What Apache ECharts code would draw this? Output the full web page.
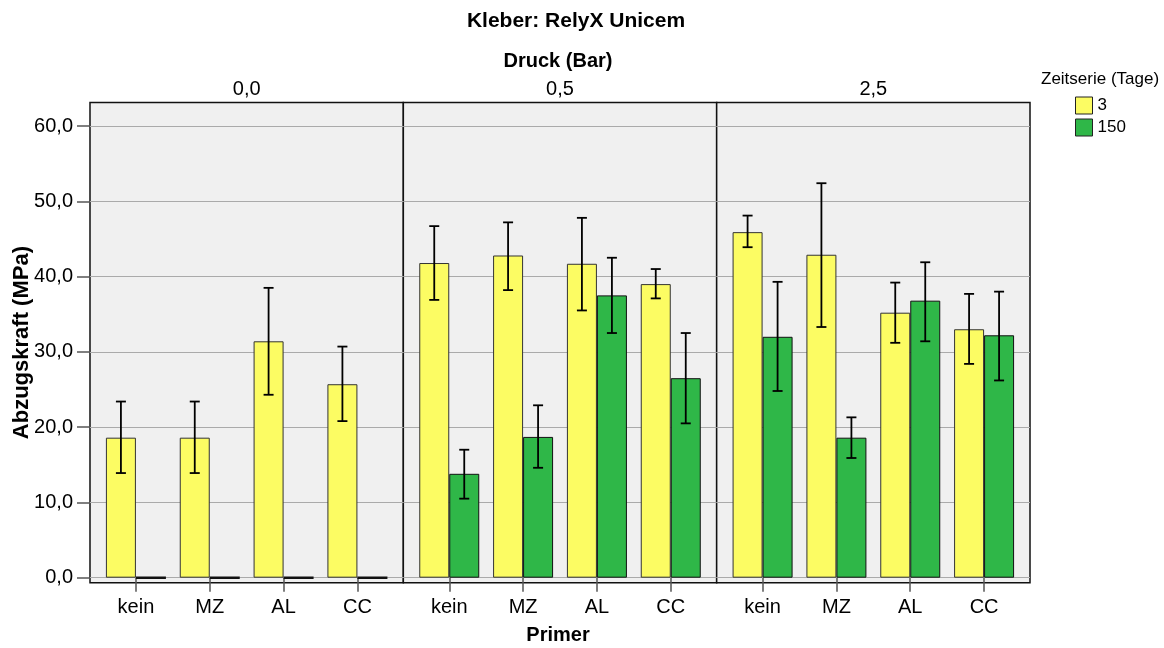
<!DOCTYPE html>
<html>
<head>
<meta charset="utf-8">
<script src="https://cdn.jsdelivr.net/npm/echarts@6/dist/echarts.min.js"></script>
<style>html,body{margin:0;padding:0;background:#fff}#c{width:1164px;height:648px}</style>
</head>
<body>
<div id="c"></div>
<script>
// ---- data ----
const categories = ['kein', 'MZ', 'AL', 'CC'];
const pressures = ['0,0', '0,5', '2,5'];
const seriesNames = ['3', '150'];
// mean values per pressure panel (Zeitserie 3 Tage)
const mean3 = [
  [18.6, 18.6, 31.4, 25.7],
  [41.8, 42.8, 41.7, 39.0],
  [45.9, 42.9, 35.2, 33.0]
];
const high3 = [
  [23.4, 23.4, 38.5, 30.7],
  [46.7, 47.2, 47.8, 41.0],
  [48.1, 52.4, 39.2, 37.7]
];
const low3 = [
  [13.9, 13.9, 24.3, 20.8],
  [36.9, 38.2, 35.5, 37.1],
  [43.9, 33.3, 31.2, 28.4]
];
// Zeitserie 150 Tage
const mean150 = [
  [0, 0, 0, 0],
  [13.8, 18.7, 37.5, 26.5],
  [32.0, 18.6, 36.8, 32.2]
];
const high150 = [
  [null, null, null, null],
  [17.0, 22.9, 42.5, 32.5],
  [39.3, 21.3, 41.9, 38.0]
];
const low150 = [
  [null, null, null, null],
  [10.5, 14.6, 32.5, 20.5],
  [24.8, 15.9, 31.4, 26.2]
];
const yTicks = [0, 10, 20, 30, 40, 50, 60];

// ---- layout / style ----
const FONT = "'Liberation Sans', Arial, Helvetica, sans-serif";
const COL3 = '#fcfc63', COL150 = '#2fb748';
const PLOT_L = 90, PLOT_R = 1030, PANEL_W = (PLOT_R - PLOT_L) / 3;
const FRAME_T = 102.5, FRAME_B = 582.7;
const Y0 = 577.7, Y60 = 126;
const PAD = 9, BAR_W = 30;

const grids = [], xAxes = [], yAxes = [], series = [], titles = [];
titles.push({ text: 'Kleber: RelyX Unicem', left: 576, top: 11, textAlign: 'center', padding: 0,
  textStyle: { fontFamily: FONT, fontSize: 21, fontWeight: 'bold', color: '#000' } });
titles.push({ text: 'Druck (Bar)', left: 558, top: 51, textAlign: 'center', padding: 0,
  textStyle: { fontFamily: FONT, fontSize: 20, fontWeight: 'bold', color: '#000' } });
titles.push({ text: 'Primer', left: 558, top: 625, textAlign: 'center', padding: 0,
  textStyle: { fontFamily: FONT, fontSize: 20, fontWeight: 'bold', color: '#000' } });
titles.push({ text: 'Zeitserie (Tage)', left: 1041, top: 71, padding: 0,
  textStyle: { fontFamily: FONT, fontSize: 17, fontWeight: 'normal', color: '#000' } });

function errRender(sign) {
  return function (params, api) {
    const lo = api.value(1), hi = api.value(2);
    if (lo == null || hi == null || isNaN(lo) || isNaN(hi)) return null;
    const pLo = api.coord([api.value(0), lo]);
    const pHi = api.coord([api.value(0), hi]);
    const cx = pLo[0] + sign * BAR_W / 2;
    const cap = 5;
    const st = { stroke: '#000', lineWidth: 1.8 };
    return { type: 'group', children: [
      { type: 'line', shape: { x1: cx, y1: pLo[1], x2: cx, y2: pHi[1] }, style: st },
      { type: 'line', shape: { x1: cx - cap, y1: pHi[1], x2: cx + cap, y2: pHi[1] }, style: st },
      { type: 'line', shape: { x1: cx - cap, y1: pLo[1], x2: cx + cap, y2: pLo[1] }, style: st }
    ] };
  };
}

for (let p = 0; p < 3; p++) {
  const left = PLOT_L + p * PANEL_W;
  titles.push({ text: pressures[p], left: left + PANEL_W / 2, top: 79, textAlign: 'center', padding: 0,
    textStyle: { fontFamily: FONT, fontSize: 20, fontWeight: 'normal', color: '#000' } });
  // frame grid
  grids.push({ left: left, top: FRAME_T, width: PANEL_W, height: FRAME_B - FRAME_T, show: true,
    backgroundColor: '#f0f0f0', borderColor: '#111', borderWidth: 1.5, z: 0 });
  // gridline grid
  grids.push({ left: left, top: Y60, width: PANEL_W, height: Y0 - Y60, z: 1 });
  // data grid
  grids.push({ left: left + PAD, top: Y60, width: PANEL_W - 2 * PAD, height: Y0 - Y60, z: 2 });

  const gFrame = 3 * p, gLine = 3 * p + 1, gData = 3 * p + 2;
  xAxes.push({ gridIndex: gFrame, type: 'value', show: false });
  if (p === 0) {
    yAxes.push({ gridIndex: gFrame, type: 'value', show: true,
      axisLine: { show: false }, axisTick: { show: false }, axisLabel: { show: false },
      splitLine: { show: false },
      name: 'Abzugskraft (MPa)', nameLocation: 'middle', nameGap: 57,
      nameTextStyle: { fontFamily: FONT, fontSize: 22, fontWeight: 'bold', color: '#000' } });
  } else {
    yAxes.push({ gridIndex: gFrame, type: 'value', show: false });
  }
  xAxes.push({ gridIndex: gLine, type: 'value', show: false });
  yAxes.push({ gridIndex: gLine, type: 'value', min: yTicks[0], max: yTicks[yTicks.length - 1], interval: 10, z: 3,
    axisLine: { show: false },
    axisTick: { show: p === 0, length: 13, lineStyle: { color: '#555', width: 1.5 } },
    axisLabel: { show: p === 0, margin: 17, fontFamily: FONT, fontSize: 20, color: '#000',
      formatter: v => v.toFixed(1).replace('.', ',') },
    splitLine: { show: true, lineStyle: { color: '#aaaaaa', width: 1 } } });
  const xi = xAxes.length;
  xAxes.push({ gridIndex: gData, type: 'category', data: categories, offset: FRAME_B - Y0,
    axisLine: { show: false },
    axisTick: { show: true, alignWithLabel: true, length: 14, lineStyle: { color: '#555', width: 1.5 } },
    axisLabel: { margin: 15, fontFamily: FONT, fontSize: 20, color: '#000' } });
  const yi = yAxes.length;
  yAxes.push({ gridIndex: gData, type: 'value', min: yTicks[0], max: yTicks[yTicks.length - 1], interval: 10, show: false,
    splitLine: { show: false } });

  series.push({ name: seriesNames[0], type: 'bar', xAxisIndex: xi, yAxisIndex: yi, z: 4,
    data: mean3[p], barWidth: BAR_W, barGap: '0%',
    itemStyle: { color: COL3, borderColor: '#333', borderWidth: 1 } });
  series.push({ name: seriesNames[1], type: 'bar', xAxisIndex: xi, yAxisIndex: yi, z: 4,
    data: mean150[p], barWidth: BAR_W, barGap: '0%',
    itemStyle: { color: COL150, borderColor: '#111', borderWidth: p === 0 ? 2.5 : 1 } });
  series.push({ name: seriesNames[0], type: 'custom', xAxisIndex: xi, yAxisIndex: yi, z: 5,
    renderItem: errRender(-1), encode: { x: 0, y: [1, 2] },
    data: categories.map((c, i) => [i, low3[p][i], high3[p][i]]) });
  series.push({ name: seriesNames[1], type: 'custom', xAxisIndex: xi, yAxisIndex: yi, z: 5,
    renderItem: errRender(1), encode: { x: 0, y: [1, 2] },
    data: categories.map((c, i) => [i, low150[p][i] == null ? '-' : low150[p][i], high150[p][i] == null ? '-' : high150[p][i]]) });
}

const chart = echarts.init(document.getElementById('c'), null, { renderer: 'canvas' });
chart.setOption({
  backgroundColor: '#fff',
  animation: false,
  title: titles,
  legend: { data: [
      { name: seriesNames[0], itemStyle: { color: COL3 } },
      { name: seriesNames[1], itemStyle: { color: COL150 } }
    ],
    orient: 'vertical', left: 1075, top: 96.5, padding: 0, itemGap: 4,
    itemWidth: 17, itemHeight: 17, icon: 'rect', itemStyle: { borderColor: '#222', borderWidth: 1 },
    textStyle: { fontFamily: FONT, fontSize: 17, color: '#000', padding: [0, 0, 0, 0] },
    selectedMode: false },
  grid: grids,
  xAxis: xAxes,
  yAxis: yAxes,
  series: series
});
</script>
</body>
</html>
